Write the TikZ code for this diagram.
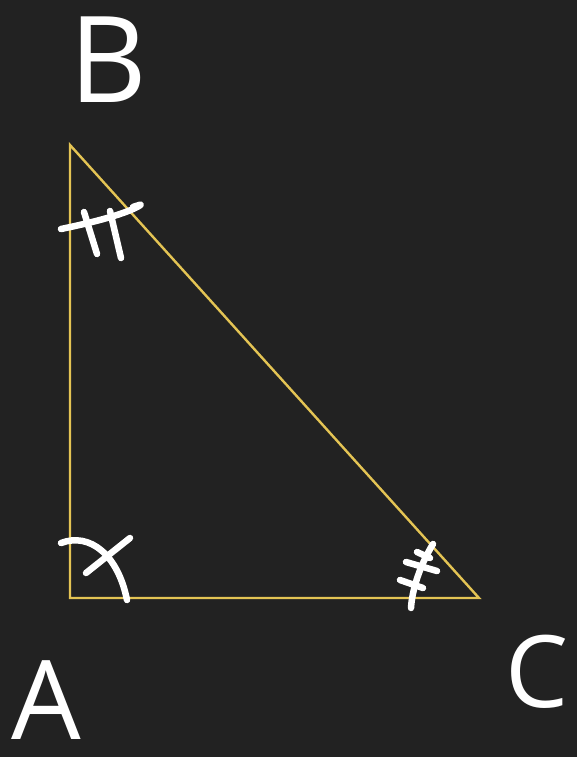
\documentclass[tikz,border=0pt]{standalone}
\usepackage{fontspec}
\setsansfont{Open Sans}
\usetikzlibrary{positioning}

\begin{document}
\begin{tikzpicture}[
    x=1pt,
    y=-1pt,
    vertexlabel/.style={
        font=\sffamily\fontsize{120}{120}\selectfont,
        text=white,
        inner sep=0pt
    },
    chalk/.style={
        draw=white,
        line width=6.5pt,
        line cap=round,
        line join=round
    },
    side/.style={
        draw=edgecol,
        line width=2.4pt,
        line join=miter
    }
]

% ---------------------------------
% Colors
% ---------------------------------
\definecolor{boardcol}{RGB}{34,34,34}
\definecolor{edgecol}{RGB}{228,196,84}

% ---------------------------------
% Board
% ---------------------------------
\fill[boardcol] (0,0) rectangle (577,757);

% ---------------------------------
% Triangle
% ---------------------------------
\coordinate (A) at (70,598);
\coordinate (B) at (70,145);
\coordinate (C) at (479,598);

\draw[side] (A) -- (B) -- (C) -- cycle;

% ---------------------------------
% Vertex labels
% ---------------------------------
\node[vertexlabel] (labB) at (108,60) {B};
\node[vertexlabel, font=\sffamily\fontsize{110}{110}\selectfont] (labA) at (46,700) {A};
\node[vertexlabel, font=\sffamily\fontsize{100}{100}\selectfont] (labC) at (537,672) {C};

% ---------------------------------
% Angle marks
% ---------------------------------
% at B: arc with two ticks
\draw[chalk] (61,229) .. controls (95,222) and (125,214) .. (139,206)
    .. controls (142,204) .. (133,207);
\draw[chalk] (84,212) -- (97,254);
\draw[chalk] (110,211) -- (121,258);

% at A: arc with one tick
\draw[chalk] (61,543) .. controls (90,532) and (118,555) .. (127,600);
\draw[chalk] (130,538) -- (86,573);

% at C: arc with three ticks
\draw[chalk] (433,544) .. controls (420,565) and (412,590) .. (411,608);
\draw[chalk] (417,552) -- (430,558);
\draw[chalk] (406,562) -- (437,571);
\draw[chalk] (400,580) -- (423,588);

\end{tikzpicture}
\end{document}
